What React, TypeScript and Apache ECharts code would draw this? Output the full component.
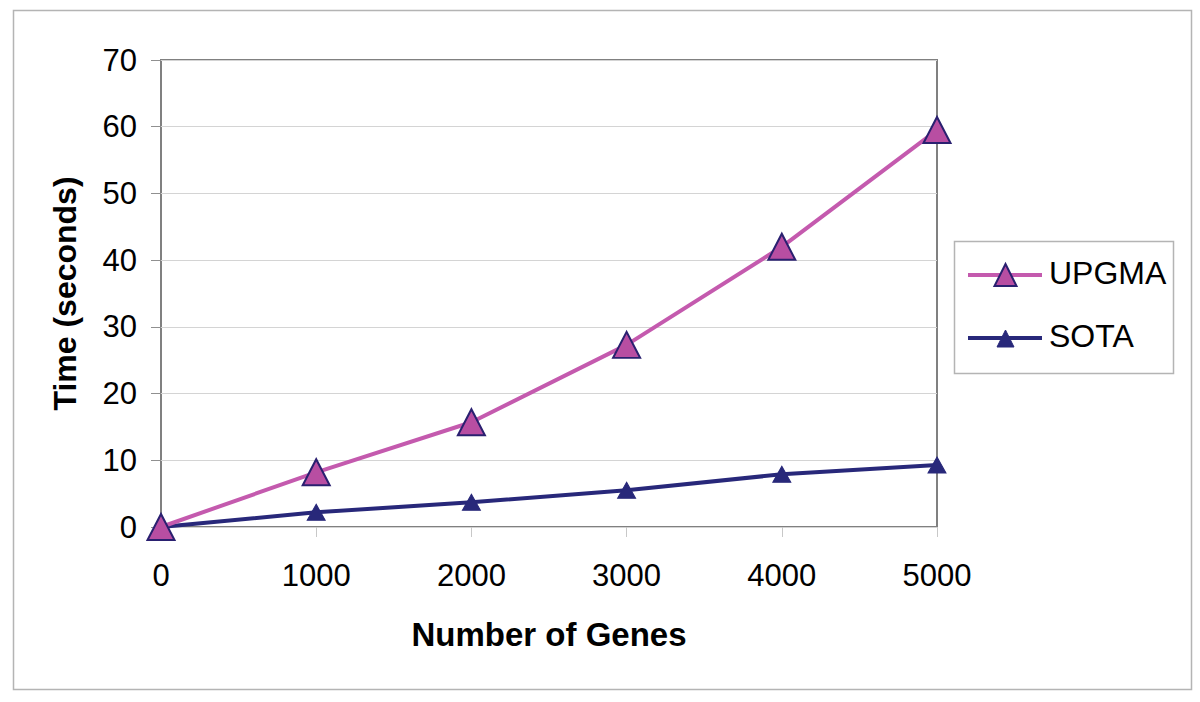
import React, { useEffect, useRef } from "react";
import * as echarts from "echarts";

const genes = [0, 1000, 2000, 3000, 4000, 5000];
const upgmaTimes = [0, 8.2, 15.7, 27.3, 42.0, 59.5];
const sotaTimes = [0, 2.2, 3.7, 5.5, 7.9, 9.3];
const seriesNames = ["UPGMA", "SOTA"];
const xTitle = "Number of Genes";
const yTitle = "Time (seconds)";

const FONT = "'Liberation Sans', Arial, Helvetica, sans-serif";
const PINK = "#c45aae";
const PINK_FILL = "#b84ea2";
const NAVY = "#28287a";
const NAVY_EDGE = "#2a2070";

function tri(cx: number, cy: number, w: number, h: number) {
  return [
    [cx, cy - h / 2],
    [cx + w / 2, cy + h / 2],
    [cx - w / 2, cy + h / 2],
  ];
}

export default function App() {
  const ref = useRef<HTMLDivElement>(null);
  useEffect(() => {
    document.body.style.margin = "0";
    if (!ref.current) return;
    const chart = echarts.init(ref.current, undefined, { renderer: "svg" });
    const pair = (ys: number[]) => genes.map((g, i) => [g, ys[i]]);
    chart.setOption({
      animation: false,
      backgroundColor: "#ffffff",
      textStyle: { fontFamily: FONT },
      graphic: [
        {
          type: "rect",
          shape: { x: 13.5, y: 10.5, width: 1178, height: 679 },
          style: { fill: "none", stroke: "#b4b4b4", lineWidth: 1.5 },
          silent: true,
        },
        {
          type: "rect",
          shape: { x: 954.5, y: 241.5, width: 219, height: 132 },
          style: { fill: "#fff", stroke: "#b4b4b4", lineWidth: 1.5 },
          silent: true,
        },
        {
          type: "line",
          shape: { x1: 968, y1: 275, x2: 1042, y2: 275 },
          style: { stroke: PINK, lineWidth: 4 },
          silent: true,
        },
        {
          type: "polygon",
          shape: { points: tri(1005.5, 275, 22, 22) },
          style: { fill: PINK_FILL, stroke: NAVY_EDGE, lineWidth: 2 },
          silent: true,
        },
        {
          type: "text",
          x: 1049,
          y: 273,
          style: { text: seriesNames[0], font: `32px ${FONT}`, fill: "#000", verticalAlign: "middle", align: "left" },
          silent: true,
        },
        {
          type: "line",
          shape: { x1: 968, y1: 338, x2: 1042, y2: 338 },
          style: { stroke: NAVY, lineWidth: 4 },
          silent: true,
        },
        {
          type: "polygon",
          shape: { points: tri(1005.5, 338.5, 17, 17) },
          style: { fill: NAVY, stroke: NAVY, lineWidth: 1 },
          silent: true,
        },
        {
          type: "text",
          x: 1049,
          y: 336,
          style: { text: seriesNames[1], font: `32px ${FONT}`, fill: "#000", verticalAlign: "middle", align: "left" },
          silent: true,
        },
      ],
      grid: {
        left: 161,
        right: 263,
        top: 60,
        bottom: 175,
        show: true,
        borderColor: "#808080",
        borderWidth: 2,
        backgroundColor: "transparent",
      },
      xAxis: {
        type: "value",
        min: 0,
        max: 5000,
        interval: 1000,
        name: xTitle,
        nameLocation: "middle",
        nameGap: 91,
        nameTextStyle: { fontSize: 33, fontWeight: "bold", color: "#000", fontFamily: FONT },
        axisLine: { show: false },
        axisTick: { show: true, length: 10, lineStyle: { color: "#c8c8c8", width: 1 } },
        axisLabel: {
          fontSize: 31,
          color: "#000",
          margin: 33,
          fontFamily: FONT,
          formatter: (v: number) => String(v),
        },
        splitLine: { show: false },
      },
      yAxis: {
        type: "value",
        min: 0,
        max: 70,
        interval: 10,
        name: yTitle,
        nameLocation: "middle",
        nameGap: 80,
        nameRotate: 90,
        nameTextStyle: { fontSize: 32, fontWeight: "bold", color: "#000", fontFamily: FONT },
        axisLine: { show: false },
        axisTick: { show: true, length: 10, lineStyle: { color: "#909090", width: 1 } },
        axisLabel: { fontSize: 31, color: "#000", margin: 24, fontFamily: FONT },
        splitLine: { show: true, lineStyle: { color: "#d4d4d4", width: 1 } },
      },
      series: [
        {
          name: seriesNames[0],
          type: "line",
          data: pair(upgmaTimes),
          clip: false,
          z: 3,
          lineStyle: { color: PINK, width: 4 },
          symbol: "triangle",
          symbolSize: [27, 26],
          itemStyle: { color: PINK_FILL, borderColor: NAVY_EDGE, borderWidth: 2 },
        },
        {
          name: seriesNames[1],
          type: "line",
          data: pair(sotaTimes),
          clip: false,
          z: 2,
          lineStyle: { color: NAVY, width: 4 },
          symbol: "triangle",
          symbolSize: [18, 16],
          itemStyle: { color: NAVY, borderColor: NAVY, borderWidth: 1 },
        },
      ],
    });
    return () => chart.dispose();
  }, []);
  return <div ref={ref} style={{ width: 1200, height: 702 }} />;
}
